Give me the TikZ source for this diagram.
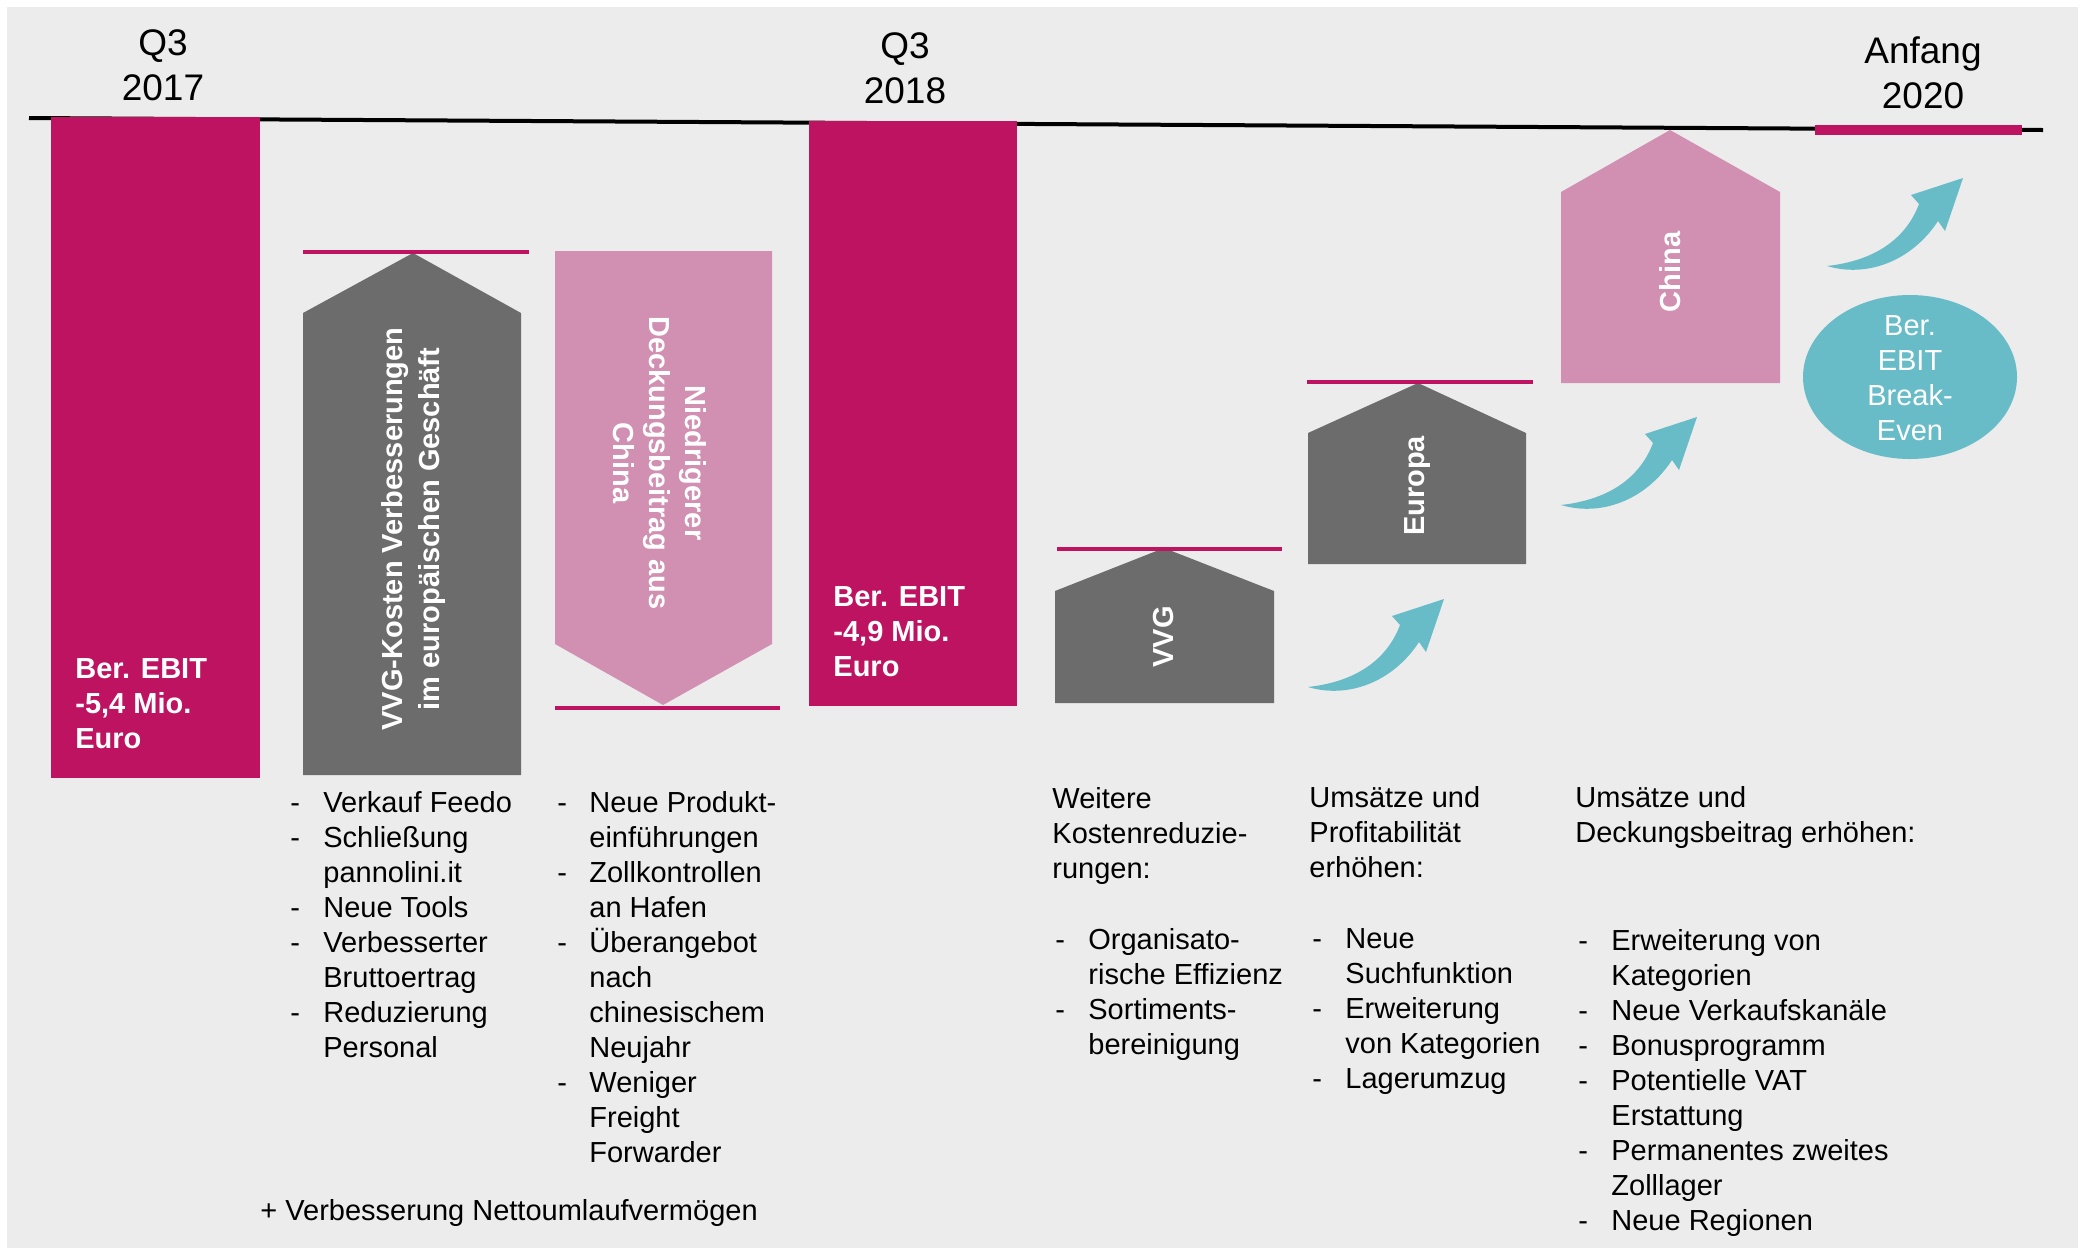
\documentclass[tikz,border=0pt]{standalone}
\usepackage{fontspec}
\setmainfont{Liberation Sans}
\usetikzlibrary{shapes.geometric}
\definecolor{mag}{HTML}{BD1361}
\definecolor{grayb}{HTML}{6C6C6C}
\definecolor{pinkb}{HTML}{D190B2}
\definecolor{tealb}{HTML}{68BCC8}
\definecolor{bgc}{HTML}{ECECEC}
\tikzset{
  body/.style={font=\fontsize{14.5}{17.5}\selectfont, inner sep=0pt, text=black},
  head/.style={font=\fontsize{18.5}{22.5}\selectfont, inner sep=0pt},
  bartext/.style={font=\bfseries\fontsize{14.5}{17.5}\selectfont, text=white, inner sep=0pt},
  rottext/.style={font=\bfseries\fontsize{14.5}{18.5}\selectfont, text=white, inner sep=0pt, align=center},
  level/.style={draw=mag, line width=2pt},
  curvarrow/.pic={\fill[tealb] (0,0) .. controls (40,12) and (85,-5) .. (111,-45) -- (118,-35) -- (136,-88) -- (84,-71) -- (92,-62) .. controls (78,-25) and (45,-5) .. (0,0) -- cycle;}
}
\begin{document}
\begin{tikzpicture}[x=0.5pt,y=-0.5pt]
\useasboundingbox (0,0) rectangle (2083,1249);
\fill[white] (0,0) rectangle (2083,1249);
\fill[bgc] (7,7) rectangle (2078,1248);
% timeline
\coordinate (tl0) at (29,118);
\coordinate (tl1) at (2043,130);
\draw[line width=2pt] (tl0) -- (tl1);
% bars
\fill[mag] (51,117) rectangle (260,778);
\fill[mag] (809,121) rectangle (1017,706);
\fill[mag] (1815,125) rectangle (2022,135);
% houses
\fill[grayb] (303,775) -- (303,313) -- (413,253) -- (521,313) -- (521,775) -- cycle;
\fill[pinkb] (555,251) -- (772,251) -- (772,644) -- (663,705) -- (555,644) -- cycle;
\fill[grayb] (1055,703) -- (1055,591) -- (1164,548) -- (1274,591) -- (1274,703) -- cycle;
\fill[grayb] (1308,564) -- (1308,433) -- (1418,383) -- (1526,433) -- (1526,564) -- cycle;
\fill[pinkb] (1561,383) -- (1561,192) -- (1670,130) -- (1780,192) -- (1780,383) -- cycle;
% level lines
\draw[level] (303,252) -- (529,252);
\draw[level] (555,708) -- (780,708);
\draw[level] (1057,549) -- (1282,549);
\draw[level] (1307,382) -- (1533,382);
% headings
\node[head, anchor=base] (h1) at (163,55) {\begin{tabular}[t]{@{}c@{}}Q3\\2017\end{tabular}};
\node[head, anchor=base] (h2) at (905,58) {\begin{tabular}[t]{@{}c@{}}Q3\\2018\end{tabular}};
\node[head, anchor=base] (h3) at (1923,63) {\begin{tabular}[t]{@{}c@{}}Anfang\\2020\end{tabular}};
% bar texts
\node[bartext, anchor=base west] (t17) at (75,678) {\begin{tabular}[t]{@{}l@{}}Ber. EBIT\\-5,4 Mio.\\Euro\end{tabular}};
\node[bartext, anchor=base west] (t18) at (833,606) {\begin{tabular}[t]{@{}l@{}}Ber. EBIT\\-4,9 Mio.\\Euro\end{tabular}};
% rotated texts
\node[rottext, rotate=90] (tvk) at (413,529) {VVG-Kosten Verbesserungen\\im europäischen Geschäft};
\node[rottext, rotate=-90, font=\bfseries\fontsize{14.5}{18}\selectfont] (tnd) at (660,463) {Niedrigerer\\Deckungsbeitrag aus\\China};
\node[rottext, rotate=90] (tvvg) at (1164,637) {VVG};
\node[rottext, rotate=90] (teu) at (1418,486) {Europa};
\node[rottext, rotate=90] (tch) at (1670,272) {China};
% arrows
\pic (arr1) at (1308,687) {curvarrow};
\pic (arr2) at (1561,505) {curvarrow};
\pic (arr3) at (1827,266) {curvarrow};
% ellipse
\node[ellipse, fill=tealb, minimum width=107pt, minimum height=82pt, inner sep=0pt] (be) at (1910,377) {};
\node[body, text=white, align=center] (bet) at (1910,378) {Ber.\\EBIT\\Break-\\Even};
% lists
\node[body, anchor=base west] (l1) at (290,812) {\begin{tabular}[t]{@{}p{16.5pt}@{}l@{}}
- & Verkauf Feedo\\
- & Schließung\\
 & pannolini.it\\
- & Neue Tools\\
- & Verbesserter\\
 & Bruttoertrag\\
- & Reduzierung\\
 & Personal
\end{tabular}};
\node[body, anchor=base west] (l2) at (557,812) {\begin{tabular}[t]{@{}p{16pt}@{}l@{}}
- & Neue Produkt-\\
 & einführungen\\
- & Zollkontrollen\\
 & an Hafen\\
- & Überangebot\\
 & nach\\
 & chinesischem\\
 & Neujahr\\
- & Weniger\\
 & Freight\\
 & Forwarder
\end{tabular}};
\node[body, anchor=base west] (plus) at (260,1220) {+ Verbesserung Nettoumlaufvermögen};
\node[body, anchor=base west] (c3h) at (1052,808) {\begin{tabular}[t]{@{}l@{}}Weitere\\Kostenreduzie-\\rungen:\end{tabular}};
\node[body, anchor=base west] (c3l) at (1055,949) {\begin{tabular}[t]{@{}p{16.5pt}@{}l@{}}
- & Organisato-\\
 & rische Effizienz\\
- & Sortiments-\\
 & bereinigung
\end{tabular}};
\node[body, anchor=base west] (c4h) at (1309,807) {\begin{tabular}[t]{@{}l@{}}Umsätze und\\Profitabilität\\erhöhen:\end{tabular}};
\node[body, anchor=base west] (c4l) at (1312,948) {\begin{tabular}[t]{@{}p{16.5pt}@{}l@{}}
- & Neue\\
 & Suchfunktion\\
- & Erweiterung\\
 & von Kategorien\\
- & Lagerumzug
\end{tabular}};
\node[body, anchor=base west] (c5h) at (1575,807) {\begin{tabular}[t]{@{}l@{}}Umsätze und\\Deckungsbeitrag erhöhen:\end{tabular}};
\node[body, anchor=base west] (c5l) at (1578,950) {\begin{tabular}[t]{@{}p{16.5pt}@{}l@{}}
- & Erweiterung von\\
 & Kategorien\\
- & Neue Verkaufskanäle\\
- & Bonusprogramm\\
- & Potentielle VAT\\
 & Erstattung\\
- & Permanentes zweites\\
 & Zolllager\\
- & Neue Regionen
\end{tabular}};
\end{tikzpicture}
\end{document}
